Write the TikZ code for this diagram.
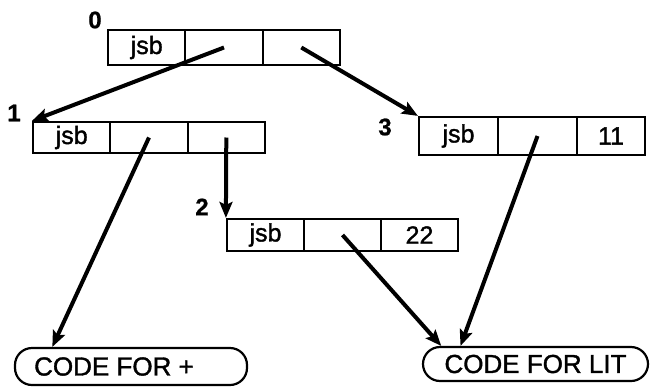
\documentclass[tikz,border=0pt]{standalone}
\usepackage{fontspec}
\setmainfont{Liberation Sans}[FakeBold=1.4]
\newfontfamily\tagfont{Liberation Sans}[FakeBold=0.8]
\usetikzlibrary{arrows.meta,calc}

\tikzset{
  cell/.style={draw, line width=2.2pt, inner sep=0pt, minimum width=77.3pt,
    font=\fontsize{25}{27}\selectfont},
  pill/.style={draw, line width=2.2pt, inner sep=0pt, rounded corners=17pt,
    font=\fontsize{26}{28}\selectfont},
  tag/.style={font=\tagfont\fontsize{24}{26}\selectfont\bfseries, inner sep=0pt},
  link/.style={line width=4pt, -{Stealth[length=16pt,width=13pt,inset=3pt]}}
}

\begin{document}
\begin{tikzpicture}[x=1pt,y=-1pt]
\useasboundingbox (0,0) rectangle (650,391);

% record 0
\node[cell, minimum height=35pt] (b0a) at (146.7,47.5) {jsb};
\node[cell, minimum height=35pt] (b0b) at (224.0,47.5) {};
\node[cell, minimum height=35pt] (b0c) at (301.3,47.5) {};
\node[tag] (l0) at (95,20) {0};

% record 1
\node[cell, minimum height=31pt] (b1a) at (71.7,137.5) {jsb};
\node[cell, minimum height=31pt] (b1b) at (149.0,137.5) {};
\node[cell, minimum height=31pt] (b1c) at (226.3,137.5) {};
\node[tag] (l1) at (14,113) {1};

% record 2
\node[cell, minimum width=77pt, minimum height=32pt] (b2a) at (265.5,235) {jsb};
\node[cell, minimum width=77pt, minimum height=32pt] (b2b) at (342.5,235) {};
\node[cell, minimum width=77pt, minimum height=32pt] (b2c) at (419.5,235) {22};
\node[tag] (l2) at (202,207) {2};

% record 3
\node[cell, minimum width=79pt, minimum height=38pt] (b3a) at (458.5,136) {jsb};
\node[cell, minimum width=79pt, minimum height=38pt] (b3b) at (537.5,136) {};
\node[cell, minimum width=68pt, minimum height=38pt] (b3c) at (611.0,136) {11};
\node[tag] (l3) at (385,127) {3};

% code blocks
\node[pill, minimum width=232pt, minimum height=37pt] (p1) at (131,366.5) {CODE FOR +\hspace*{34pt}};
\node[pill, minimum width=225pt, minimum height=34pt] (p2) at (535.5,364) {CODE FOR LIT};

\coordinate (t1) at ($(p1.north west)!0.164!(p1.north east)$);
\coordinate (t2) at ($(p2.north west)!0.085!(p2.north east)$);
\coordinate (t3) at ($(p2.north west)!0.17!(p2.north east)$);

% pointers
\draw[link] (b0b.center) -- (b1a.north west);
\draw[link] (b0c.center) -- (b3a.north west);
\draw[link] (b1b.center) -- (t1);
\draw[link] (b1c.center) -- (b2a.north west);
\draw[link] (b2b.center) -- (t2);
\draw[link] (b3b.center) -- (t3);
\end{tikzpicture}
\end{document}
